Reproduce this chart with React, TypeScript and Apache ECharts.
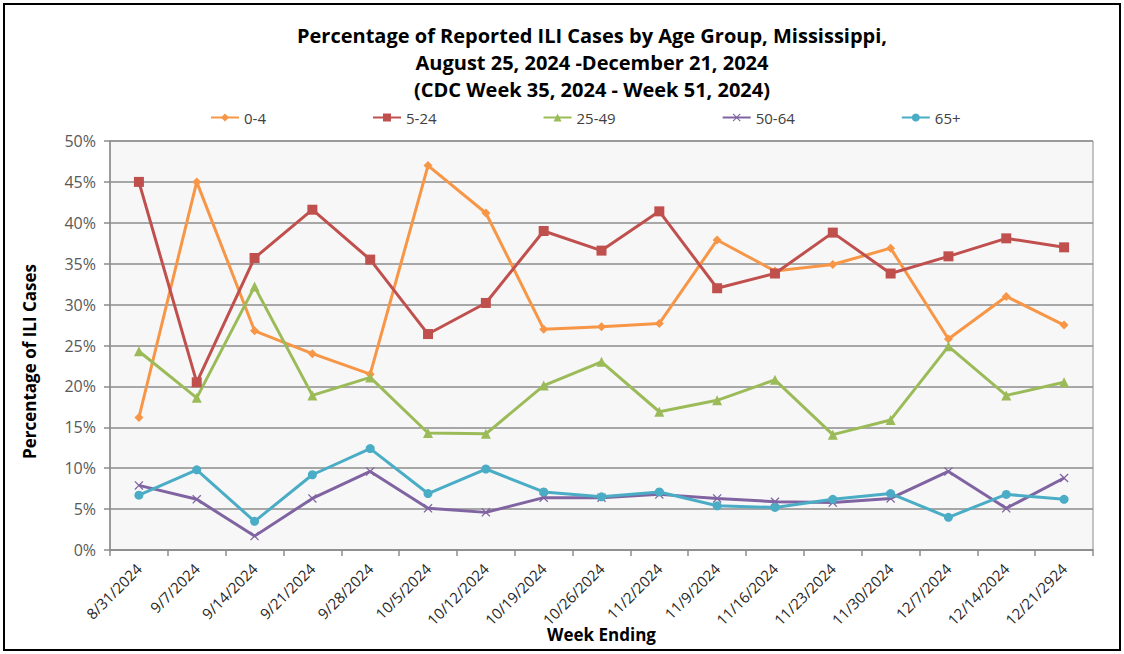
import React, { useEffect, useRef } from "react";
import * as echarts from "echarts";

const weeks = ["8/31/2024","9/7/2024","9/14/2024","9/21/2024","9/28/2024","10/5/2024","10/12/2024","10/19/2024","10/26/2024","11/2/2024","11/9/2024","11/16/2024","11/23/2024","11/30/2024","12/7/2024","12/14/2024","12/21/2924"];
const age0to4 = [16.2,45.0,26.8,24.0,21.5,47.0,41.2,27.0,27.3,27.7,37.9,34.1,34.9,36.9,25.8,31.0,27.5];
const age5to24 = [45.0,20.5,35.7,41.6,35.5,26.4,30.2,39.0,36.6,41.4,32.0,33.8,38.8,33.8,35.9,38.1,37.0];
const age25to49 = [24.3,18.6,32.2,18.9,21.1,14.3,14.2,20.1,23.0,16.9,18.3,20.8,14.1,15.9,24.9,18.9,20.5];
const age50to64 = [7.9,6.2,1.7,6.3,9.6,5.1,4.6,6.4,6.4,6.8,6.3,5.9,5.8,6.3,9.6,5.1,8.8];
const age65plus = [6.7,9.8,3.5,9.2,12.4,6.9,9.9,7.1,6.5,7.1,5.4,5.2,6.2,6.9,4.0,6.8,6.2];
const yTicks = [0, 50, 5];

const FONT = "'Open Sans', 'Noto Sans', sans-serif";
const X_SYMBOL = "path://M0,1L1,0L5,4L9,0L10,1L6,5L10,9L9,10L5,6L1,10L0,9L4,5Z";

export default function App() {
  const ref = useRef<HTMLDivElement>(null);
  useEffect(() => {
    if (!ref.current) return;
    const chart = echarts.init(ref.current, null, { renderer: "svg" });
    const mk = (name: string, data: number[], color: string, symbol: string, size: number) => ({
      name,
      type: "line",
      data,
      symbol,
      symbolSize: size,
      showAllSymbol: true,
      lineStyle: { color, width: 3 },
      itemStyle: { color, borderColor: color, borderWidth: 0 },
      emphasis: { disabled: true },
    });
    chart.setOption({
      animation: false,
      backgroundColor: "#ffffff",
      textStyle: { fontFamily: FONT },
      title: {
        text: "Percentage of Reported ILI Cases by Age Group, Mississippi,\nAugust 25, 2024 -December 21, 2024\n(CDC Week 35, 2024 - Week 51, 2024)",
        left: 587,
        textAlign: "center",
        top: 17,
        textStyle: { fontFamily: FONT, fontSize: 20, fontWeight: "bold", color: "#000", lineHeight: 27 },
      },
      legend: {
        top: 105,
        left: 205,
        itemGap: 106,
        itemWidth: 28,
        itemHeight: 10,
        textStyle: { fontFamily: FONT, fontSize: 15, color: "#404040" },
        data: ["0-4", "5-24", "25-49", "50-64", "65+"],
      },
      graphic: [
        {
          type: "rect",
          shape: { x: 4, y: 4, width: 1116, height: 646 },
          style: { fill: "none", stroke: "#000", lineWidth: 2 },
          silent: true,
        },
      ],
      grid: {
        left: 110,
        right: 31,
        top: 141,
        bottom: 104,
        show: true,
        outerBoundsMode: "none",
        containLabel: false,
        backgroundColor: "#f7f7f7",
        borderColor: "#8c8c8c",
        borderWidth: 1,
      },
      xAxis: {
        type: "category",
        data: weeks,
        boundaryGap: true,
        name: "Week Ending",
        nameLocation: "middle",
        nameGap: 76,
        nameMoveOverlap: false,
        nameTextStyle: { fontFamily: FONT, fontSize: 17, fontWeight: "bold", color: "#000" },
        axisLine: { lineStyle: { color: "#8c8c8c", width: 1.5 } },
        axisTick: { show: true, alignWithLabel: false, length: 6, lineStyle: { color: "#8c8c8c", width: 1.5 } },
        axisLabel: { rotate: 45, fontSize: 15, color: "#262626", fontFamily: FONT, interval: 0, margin: 16 },
        splitLine: { show: false },
      },
      yAxis: {
        type: "value",
        min: yTicks[0],
        max: yTicks[1],
        interval: yTicks[2],
        name: "Percentage of ILI Cases",
        nameLocation: "middle",
        nameGap: 72,
        nameMoveOverlap: false,
        nameTextStyle: { fontFamily: FONT, fontSize: 17, fontWeight: "bold", color: "#000", padding: [0, 32, 0, 0] },
        axisLine: { show: true, lineStyle: { color: "#8c8c8c", width: 1.5 } },
        axisTick: { show: true, length: 6, lineStyle: { color: "#8c8c8c", width: 1.5 } },
        axisLabel: { formatter: "{value}%", fontSize: 16, color: "#595959", fontFamily: FONT, margin: 14 },
        splitLine: { show: true, lineStyle: { color: "#8c8c8c", width: 1.5 } },
      },
      series: [
        mk("0-4", age0to4, "#f79646", "diamond", 9),
        mk("5-24", age5to24, "#c0504d", "rect", 10),
        mk("25-49", age25to49, "#9bbb59", "triangle", 10),
        mk("50-64", age50to64, "#8064a2", X_SYMBOL, 9),
        mk("65+", age65plus, "#4bacc6", "circle", 9),
      ],
    });
    return () => chart.dispose();
  }, []);
  return <div ref={ref} style={{ position: "fixed", left: 0, top: 0, width: 1124, height: 654 }} />;
}
